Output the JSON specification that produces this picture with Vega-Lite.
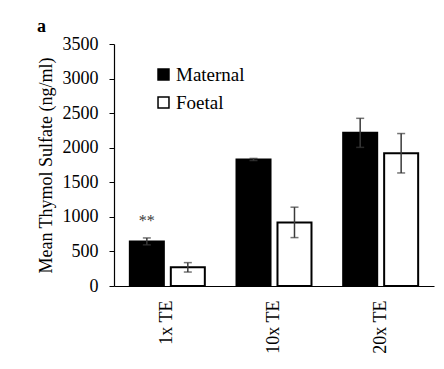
{
  "$schema": "https://vega.github.io/schema/vega-lite/v6.json",
  "width": 320,
  "height": 242,
  "padding": {"left": 37, "top": 18, "right": 5, "bottom": 5},
  "background": "white",
  "title": {"text": "a", "anchor": "start", "frame": "bounds", "font": "Liberation Serif", "fontSize": 18, "fontWeight": "bold", "color": "black", "offset": -1},
  "config": {
    "view": {"stroke": null},
    "font": "Liberation Serif",
    "text": {"font": "Liberation Serif"},
    "axis": {"labelFont": "Liberation Serif", "titleFont": "Liberation Serif", "labelColor": "black", "titleColor": "black", "domainColor": "black", "tickColor": "black", "grid": false},
    "axisY": {"titleFontSize": 18, "titleFontWeight": "normal", "titlePadding": 7, "labelFontSize": 18, "labelPadding": 11, "labelOverlap": false, "format": "d", "tickSize": 5, "domainWidth": 1.2},
    "legend": {"labelFont": "Liberation Serif"}
  },
  "data": {"values": [
    {"dose": "1x TE", "group": "Maternal", "mean": 645, "lo": 595, "hi": 695, "sig": "**"},
    {"dose": "1x TE", "group": "Foetal", "mean": 270, "lo": 202, "hi": 338, "sig": ""},
    {"dose": "10x TE", "group": "Maternal", "mean": 1830, "lo": 1815, "hi": 1845, "sig": ""},
    {"dose": "10x TE", "group": "Foetal", "mean": 920, "lo": 700, "hi": 1140, "sig": ""},
    {"dose": "20x TE", "group": "Maternal", "mean": 2215, "lo": 2005, "hi": 2425, "sig": ""},
    {"dose": "20x TE", "group": "Foetal", "mean": 1920, "lo": 1635, "hi": 2205, "sig": ""}
  ]},
  "encoding": {
    "x": {"field": "dose", "type": "nominal", "sort": ["1x TE", "10x TE", "20x TE"],
      "scale": {"paddingInner": 0.297, "paddingOuter": 0.1485},
      "axis": {"title": null, "labelAngle": -90, "labelFont": "Liberation Serif", "labelFontSize": 18, "ticks": false, "labelPadding": 14, "domainWidth": 1.2, "labelAlign": "right", "labelBaseline": "middle"}},
    "xOffset": {"field": "group", "type": "nominal", "sort": ["Maternal", "Foetal"], "scale": {"paddingInner": 0.17, "paddingOuter": 0}}
  },
  "layer": [
    {
      "mark": {"type": "bar", "stroke": "black", "strokeWidth": 2},
      "encoding": {
        "y": {"field": "mean", "type": "quantitative", "scale": {"domain": [0, 3500], "nice": false},
          "axis": {"title": "Mean Thymol Sulfate (ng/ml)", "values": [0, 500, 1000, 1500, 2000, 2500, 3000, 3500]}},
        "color": {"field": "group", "type": "nominal", "sort": ["Maternal", "Foetal"],
          "scale": {"domain": ["Maternal", "Foetal"], "range": ["black", "white"]},
          "legend": {"title": null, "orient": "none", "legendX": 40, "legendY": 21, "symbolType": "square", "symbolSize": 120, "symbolStrokeColor": "black", "symbolStrokeWidth": 1.5, "labelFontSize": 19, "labelColor": "black", "labelFont": "Liberation Serif", "rowPadding": 8, "labelOffset": 3}}
      }
    },
    {
      "mark": {"type": "rule", "color": "#3a3a3a", "strokeWidth": 1.5},
      "encoding": {"y": {"field": "lo", "type": "quantitative", "axis": {"title": "Mean Thymol Sulfate (ng/ml)", "values": [0, 500, 1000, 1500, 2000, 2500, 3000, 3500]}}, "y2": {"field": "hi"}}
    },
    {
      "mark": {"type": "tick", "color": "#3a3a3a", "size": 8, "thickness": 1.5},
      "encoding": {"y": {"field": "lo", "type": "quantitative", "axis": {"title": "Mean Thymol Sulfate (ng/ml)", "values": [0, 500, 1000, 1500, 2000, 2500, 3000, 3500]}}}
    },
    {
      "mark": {"type": "tick", "color": "#3a3a3a", "size": 8, "thickness": 1.5},
      "encoding": {"y": {"field": "hi", "type": "quantitative", "axis": {"title": "Mean Thymol Sulfate (ng/ml)", "values": [0, 500, 1000, 1500, 2000, 2500, 3000, 3500]}}}
    },
    {
      "transform": [{"filter": "datum.sig != ''"}],
      "mark": {"type": "text", "font": "Liberation Serif", "fontSize": 16, "color": "#3a3a3a", "dy": -17, "baseline": "middle"},
      "encoding": {"y": {"field": "hi", "type": "quantitative", "axis": {"title": "Mean Thymol Sulfate (ng/ml)", "values": [0, 500, 1000, 1500, 2000, 2500, 3000, 3500]}}, "text": {"field": "sig"}}
    }
  ]
}
